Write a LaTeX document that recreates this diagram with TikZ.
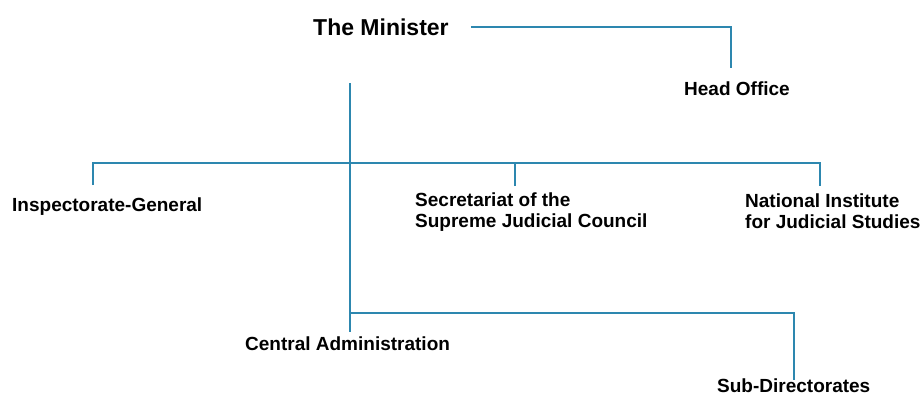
\documentclass[tikz,border=0pt]{standalone}
\usepackage{fontspec}
\setmainfont{Liberation Sans}
\definecolor{linkblue}{RGB}{45,135,175}
\begin{document}
\begin{tikzpicture}[
  x=1pt, y=-1pt,
  unit/.style={font=\bfseries\fontsize{19}{21}\selectfont,
    inner sep=0pt, align=left, anchor=base west},
  top/.style={unit, font=\bfseries\fontsize{23}{26}\selectfont},
  link/.style={draw=linkblue, line width=1.8pt}]
  \useasboundingbox (0,0) rectangle (923,397);

  \node[top] (minister) at (313,35) {The Minister};
  \node[unit] (head) at (684,95) {Head Office};
  \node[unit] (insp) at (12,211) {Inspectorate-General};
  \node[unit, anchor=north west] (secr) at (415,193) {Secretariat of the\\Supreme Judicial Council};
  \node[unit, anchor=north west] (inst) at (745,194) {National Institute\\for Judicial Studies};
  \node[unit] (central) at (245,350) {Central Administration};
  \node[unit] (sub) at (717,392) {Sub-Directorates};

  \coordinate (trunk) at (350,83);
  \coordinate (fork) at (350,163);
  \coordinate (lowfork) at (350,313);
  \coordinate (headtop) at (731,68);
  \coordinate (inspdrop) at (93,185);
  \coordinate (secrdrop) at (515,186);
  \coordinate (instdrop) at (820,186);

  \draw[link] ([xshift=22pt]minister.east) -| (headtop);
  \draw[link, shorten >=4pt] (trunk) -- (trunk |- central.north);
  \draw[link] (inspdrop) |- (fork) -| (instdrop);
  \draw[link] (secrdrop) -- (secrdrop |- fork);
  \draw[link] (lowfork) -| ([yshift=-2pt]sub.north);
\end{tikzpicture}
\end{document}
